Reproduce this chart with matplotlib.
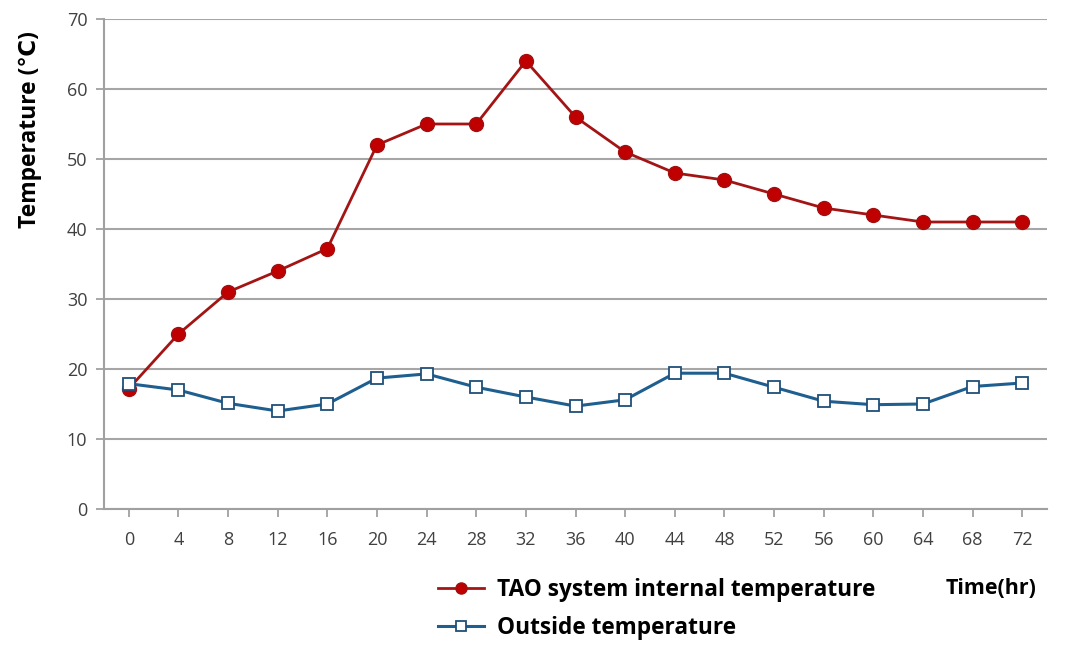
import numpy as np
import matplotlib
matplotlib.use("Agg")
import matplotlib.pyplot as plt

hours = [0, 4, 8, 12, 16, 20, 24, 28, 32, 36, 40, 44, 48, 52, 56, 60, 64, 68, 72]
internal = [17.2, 25, 31, 34, 37.2, 52, 55, 55, 64, 56, 51, 48, 47, 45, 43, 42, 41, 41, 41]
outside = [17.9, 17.0, 15.1, 14.0, 15.0, 18.7, 19.3, 17.4, 16.0, 14.7, 15.6, 19.4, 19.4,
           17.4, 15.4, 14.9, 15.0, 17.5, 18.0]

plt.rcParams['font.family'] = ['Open Sans', 'DejaVu Sans']

fig = plt.figure(figsize=(10.67, 6.6), dpi=100)
ax = fig.add_axes([104 / 1067, 1 - 509 / 660, (1047 - 104) / 1067, (509 - 19) / 660])

x = np.arange(len(hours))
red_line, = ax.plot(x, internal, color='#a31515', lw=2, marker='o', ms=10,
                    mfc='#c00000', mec='#a01010', mew=1, zorder=3)
blue_line, = ax.plot(x, outside, color='#1f5f8f', lw=2.2, marker='s', ms=9,
                     mfc='white', mec='#1f4f7a', mew=1.3, zorder=3)

ax.set_xlim(-0.5, len(hours) - 0.5)
ax.set_ylim(0, 70)
ax.set_yticks(range(0, 71, 10))
ax.set_xticks(x)
ax.set_xticklabels([str(h) for h in hours])
ax.yaxis.grid(True, color='#a6a6a6', lw=1.5)
ax.set_axisbelow(True)

for s in ['top', 'right']:
    ax.spines[s].set_visible(False)
for s in ['left', 'bottom']:
    ax.spines[s].set_color('#a0a0a0')
    ax.spines[s].set_linewidth(1.5)
ax.tick_params(axis='both', colors='#a0a0a0', labelcolor='#404040', labelsize=13,
               length=6, width=1.3)
ax.tick_params(axis='x', pad=10)
ax.tick_params(axis='y', pad=6)

fig.text(30 / 1067, 1 - 130 / 660, 'Temperature (℃)', rotation=90, fontsize=16.5,
         fontweight='bold', ha='center', va='center',
         family=['Open Sans', 'DejaVu Sans'])
fig.text(1037 / 1067, 1 - 588 / 660, 'Time(hr)', fontsize=15.5, fontweight='bold',
         ha='right', va='center')

fig.legend([red_line, blue_line],
           ['TAO system internal temperature', 'Outside temperature'],
           loc='center left', bbox_to_anchor=(418 / 1067, 1 - 609 / 660),
           frameon=False, prop={'weight': 'bold', 'size': 16.3}, handlelength=2.0,
           labelspacing=0.6, markerscale=0.8, handletextpad=0.6)

fig.savefig('out.png', dpi=100)
